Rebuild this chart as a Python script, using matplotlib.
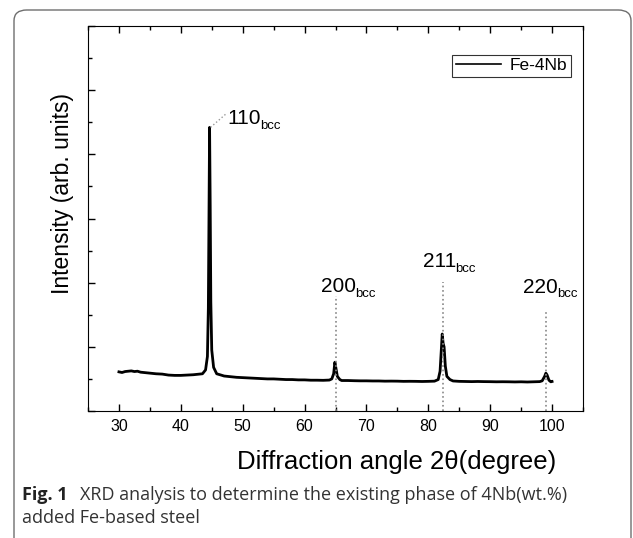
import matplotlib
matplotlib.use('Agg')
import matplotlib.pyplot as plt
from matplotlib.patches import FancyBboxPatch
from matplotlib.ticker import MultipleLocator

# XRD pattern (arb. units)
two_theta = [30, 30.5, 31, 31.5, 32, 32.5, 33, 33.5, 34, 35, 36, 37, 38, 39, 40, 41, 42, 43,
             43.5, 44.0, 44.3, 44.45, 44.55, 44.65, 44.75, 44.85, 45.0, 45.3, 45.8,
             46.5, 47, 48, 49, 50, 51, 52, 53, 54, 55, 56, 57, 58, 59, 60, 61, 62, 63, 64,
             64.4, 64.7, 64.9, 65.1, 65.3, 65.7,
             66, 67, 68, 69, 70, 71, 72, 73, 74, 75, 76, 77, 78, 79, 80, 81,
             81.6, 81.9, 82.1, 82.25, 82.4, 82.55, 82.75, 83.0, 83.5,
             84, 85, 86, 87, 88, 89, 90, 91, 92, 93, 94, 95, 96, 97, 98,
             98.4, 98.8, 99.0, 99.2, 99.5, 99.8, 100]
intensity = [610, 600, 615, 620, 625, 615, 620, 605, 600, 590, 580, 575, 560, 555, 555, 560, 565, 575,
             580, 640, 850, 1600, 3000, 4420, 3200, 1700, 950, 680, 580,
             560, 545, 535, 525, 520, 515, 510, 505, 500, 500, 495, 490, 490, 485, 485, 480, 480, 478, 482,
             500, 580, 760, 650, 540, 490,
             475, 475, 472, 470, 470, 468, 468, 465, 466, 465, 462, 463, 462, 460, 462, 465,
             490, 620, 950, 1200, 1050, 1000, 700, 540, 490,
             468, 462, 460, 458, 460, 458, 457, 455, 456, 455, 453, 455, 452, 455, 458,
             470, 540, 590, 560, 480, 455, 460]

peak_pos = [65.0, 82.3, 99.0]
peak_labels = ['200', '211', '220']
label_x = [62.6, 79.1, 95.3]
label_y = [1850, 2240, 1840]
line_top = [1800, 2010, 1540]

plt.rcParams['font.family'] = ['Liberation Sans', 'DejaVu Sans']

fig = plt.figure(figsize=(6.33, 5.38), dpi=100)
W, H = 633, 538

# rounded frame around the figure
frame = FancyBboxPatch((14 / W, -0.1), (617 / W), 1 - 10 / H + 0.1,
                       boxstyle='round,pad=0,rounding_size=0.02',
                       transform=fig.transFigure, fill=False,
                       edgecolor='#6e6e6e', linewidth=1.0)
fig.patches.append(frame)

ax = fig.add_axes([88 / W, 1 - 411 / H, 495 / W, 385 / H])
ax.plot(two_theta, intensity, color='black', linewidth=2.0, label='Fe-4Nb')


def peak_label(x, y, text):
    t = ax.text(x, y, text, fontsize=15, ha='left', va='baseline')
    ax.annotate('bcc', xy=(1, 0), xycoords=t, xytext=(-0.5, -2.5),
                textcoords='offset points', fontsize=9.5, ha='left', va='bottom')


for x, lab, lx, ly, top in zip(peak_pos, peak_labels, label_x, label_y, line_top):
    ax.plot([x, x], [0, top], color='#888888', linestyle=':', linewidth=1.2)
    peak_label(lx, ly, lab)

ax.plot([44.8, 47.3], [4420, 4630], color='#999999', linestyle=':', linewidth=1.0)
peak_label(47.45, 4470, '110')

ax.set_xlim(25, 105)
ax.set_ylim(0, 6000)
ax.xaxis.set_major_locator(MultipleLocator(10))
ax.xaxis.set_minor_locator(MultipleLocator(5))
ax.yaxis.set_major_locator(MultipleLocator(1000))
ax.yaxis.set_minor_locator(MultipleLocator(500))
ax.set_xticks(range(30, 101, 10))
ax.tick_params(which='both', direction='in', top=True, right=False, labelleft=False)
ax.tick_params(which='major', length=5, width=1, labelsize=11.5, pad=6)
ax.tick_params(which='minor', length=3, width=1)

leg = ax.legend(loc='upper right', bbox_to_anchor=(0.975, 0.925), fontsize=12.5,
                frameon=True, fancybox=False, handlelength=2.6, handletextpad=0.5,
                borderpad=0.2, borderaxespad=0)
leg.get_frame().set_edgecolor('black')
leg.get_frame().set_linewidth(0.8)
leg.get_lines()[0].set_linewidth(1.2)

fig.text(63 / W, 1 - 193 / H, 'Intensity (arb. units)', rotation=90,
         ha='center', va='center', fontsize=16.5)
fig.text(397 / W, 1 - 462 / H, 'Diffraction angle 2θ(degree)',
         ha='center', va='center', fontsize=18.5)

# caption
fig.text(22 / W, 1 - 500 / H, 'Fig. 1', fontsize=13, fontweight='bold',
         family='Open Sans', ha='left', va='baseline', color='#222222')
fig.text(80 / W, 1 - 500 / H, 'XRD analysis to determine the existing phase of 4Nb(wt.%)',
         fontsize=13, family='Open Sans', ha='left', va='baseline', color='#333333')
fig.text(22 / W, 1 - 523 / H, 'added Fe-based steel',
         fontsize=13, family='Open Sans', ha='left', va='baseline', color='#333333')

plt.savefig('out.png', dpi=100)
